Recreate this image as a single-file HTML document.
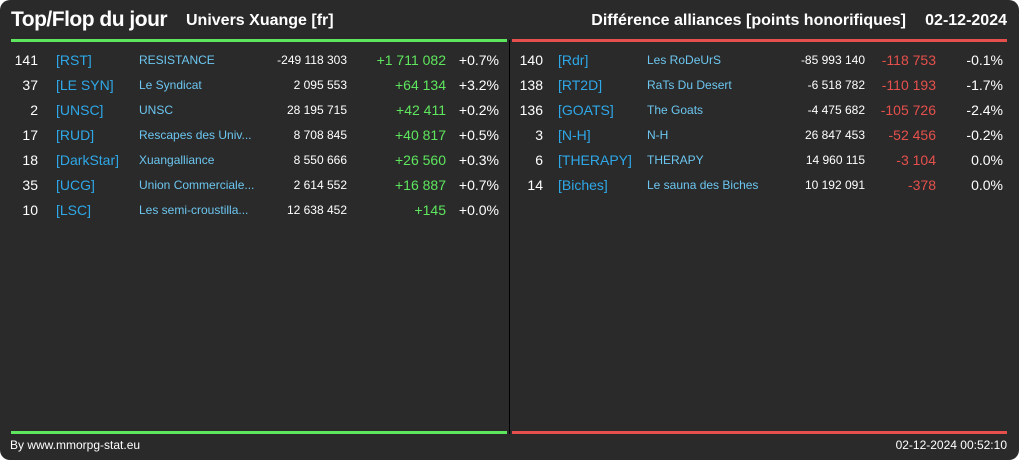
<!DOCTYPE html>
<html><head><meta charset="utf-8"><style>
body{margin:0;background:#fff;font-family:"Liberation Sans",sans-serif;}
#card{position:absolute;left:0;top:0;width:1019px;height:460px;background:#2a2a2a;border-radius:10px;overflow:hidden;}
.t{position:absolute;white-space:nowrap;line-height:1;}
.r{text-align:right;}
</style></head><body>
<div id="card">
<div class="t" style="left:11px;top:9px;font-size:21px;font-weight:bold;color:#fff;letter-spacing:-0.5px">Top/Flop du jour</div>
<div class="t" style="left:186px;top:13px;font-size:16px;font-weight:bold;color:#fff">Univers Xuange [fr]</div>
<div class="t r" style="right:113px;top:13px;font-size:16px;font-weight:bold;color:#fff">Différence alliances [points honorifiques]</div>
<div class="t r" style="right:12px;top:13px;font-size:16px;font-weight:bold;color:#fff">02-12-2024</div>
<div style="position:absolute;left:11px;top:39px;width:496px;height:3px;background:#5ee65e"></div>
<div style="position:absolute;left:512px;top:39px;width:495px;height:3px;background:#e5504c"></div>
<div style="position:absolute;left:509px;top:40px;width:1px;height:394px;background:#000"></div>
<div style="position:absolute;left:11px;top:431px;width:496px;height:3px;background:#5ee65e"></div>
<div style="position:absolute;left:512px;top:431px;width:495px;height:3px;background:#e5504c"></div>
<div class="t" style="left:10px;top:439px;font-size:12px;color:#fff">By www.mmorpg-stat.eu</div>
<div class="t r" style="right:12px;top:439px;font-size:12px;color:#fff">02-12-2024 00:52:10</div>
</div>
<script>
const topRanks=[141,37,2,17,18,35,10];
const topTags=["[RST]","[LE SYN]","[UNSC]","[RUD]","[DarkStar]","[UCG]","[LSC]"];
const topNames=["RESISTANCE","Le Syndicat","UNSC","Rescapes des Univ...","Xuangalliance","Union Commerciale...","Les semi-croustilla..."];
const topValues=["-249 118 303","2 095 553","28 195 715","8 708 845","8 550 666","2 614 552","12 638 452"];
const topDiffs=["+1 711 082","+64 134","+42 411","+40 817","+26 560","+16 887","+145"];
const topPcts=["+0.7%","+3.2%","+0.2%","+0.5%","+0.3%","+0.7%","+0.0%"];
const flopRanks=[140,138,136,3,6,14];
const flopTags=["[Rdr]","[RT2D]","[GOATS]","[N-H]","[THERAPY]","[Biches]"];
const flopNames=["Les RoDeUrS","RaTs Du Desert","The Goats","N-H","THERAPY","Le sauna des Biches"];
const flopValues=["-85 993 140","-6 518 782","-4 475 682","26 847 453","14 960 115","10 192 091"];
const flopDiffs=["-118 753","-110 193","-105 726","-52 456","-3 104","-378"];
const flopPcts=["-0.1%","-1.7%","-2.4%","-0.2%","0.0%","0.0%"];
const card=document.getElementById('card');
function txt(s,x,y,size,color,right,name){
  const d=document.createElement('div');
  d.className='t'+(right?' r':'');
  d.textContent=s;
  d.style.top=(y-size*0.5)+'px';
  d.style.fontSize=size+'px';d.style.color=color;
  if(right){d.style.right=(1019-x)+'px';}else{d.style.left=x+'px';}
  
  
  card.appendChild(d);
}
function rowY(i){return 60+i*25;}
function panel(ranks,tags,names,vals,diffs,pcts,c,diffColor,pre){
  ranks.forEach((r,i)=>{
    const y=rowY(i);
    txt(String(r),c[0],y,14,'#fff',true,pre+'-rank');
    txt(tags[i],c[1],y,14,'#2ea8e8',false,pre+'-tag');
    txt(names[i],c[2],y,12,'#6cc6f0',false,pre+'-name');
    txt(vals[i],c[3],y,12,'#fff',true,pre+'-value');
    txt(diffs[i],c[4],y,14,diffColor,true,pre+'-diff');
    txt(pcts[i],c[5],y,14,'#fff',true,pre+'-pct');
  });
}
panel(topRanks,topTags,topNames,topValues,topDiffs,topPcts,[38,56,139,347,446,499],'#5ee65e','top');
panel(flopRanks,flopTags,flopNames,flopValues,flopDiffs,flopPcts,[543,558,647,865,936,1003],'#e5504c','flop');
</script>
</body></html>
